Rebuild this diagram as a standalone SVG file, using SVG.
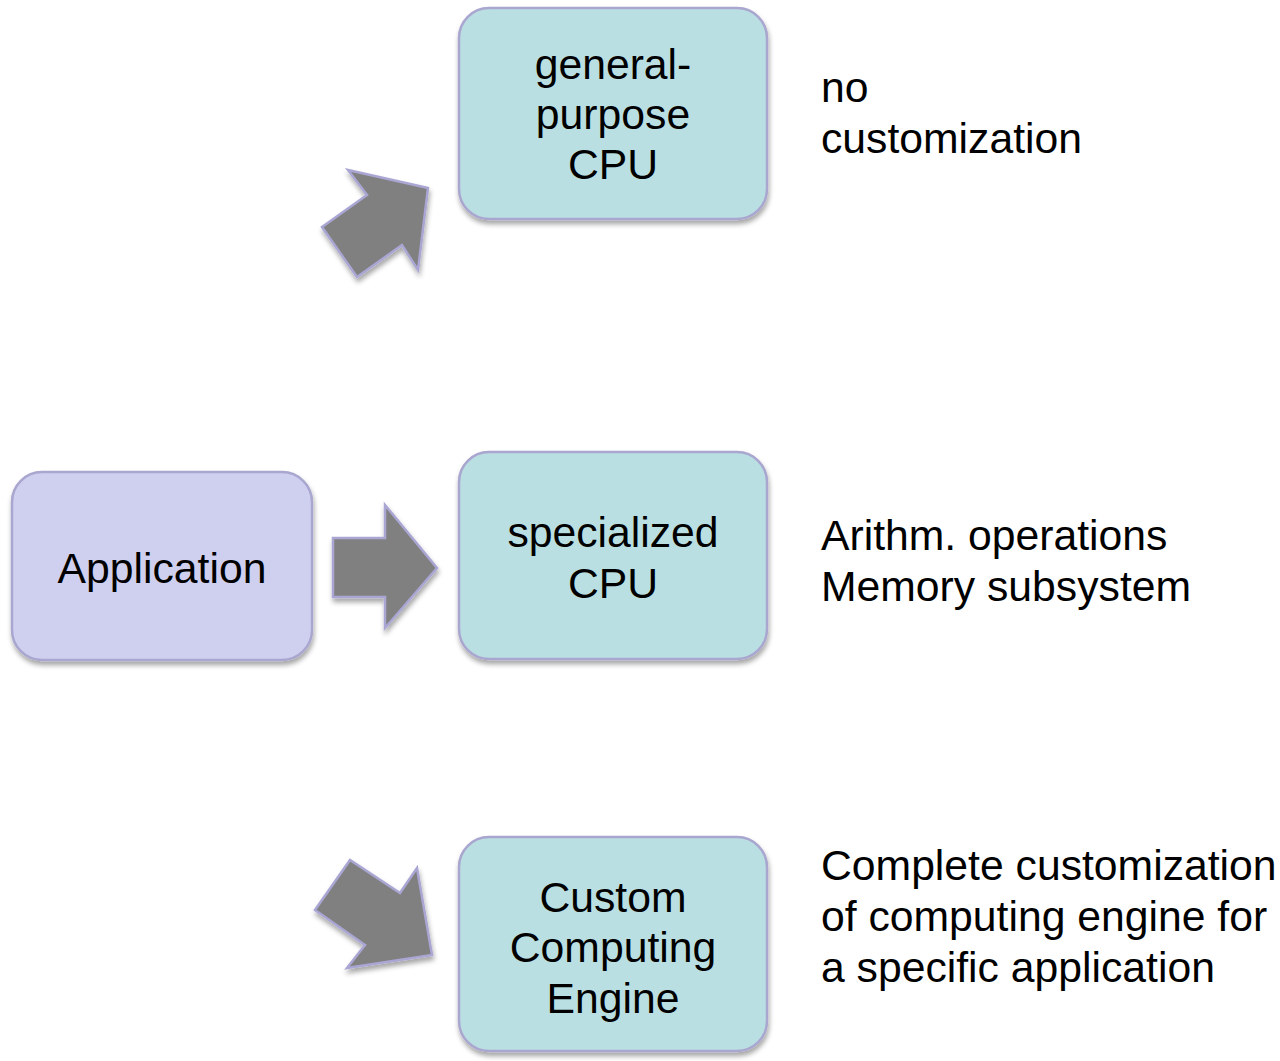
<svg xmlns="http://www.w3.org/2000/svg" width="1280" height="1061" viewBox="0 0 1280 1061">
<defs>
<filter id="sh" x="-10%" y="-10%" width="130%" height="130%">
<feDropShadow dx="1" dy="4" stdDeviation="2.5" flood-color="#000" flood-opacity="0.35"/>
</filter>
<style>
.box{fill:#badfe2;stroke:#a9a6cf;stroke-width:2.5;filter:url(#sh)}
.app{fill:#cfcfef;stroke:#a9a6cf;stroke-width:2.5;filter:url(#sh)}
.arr{fill:#808080;stroke:#aaa6d4;stroke-width:2.5;stroke-linejoin:miter;filter:url(#sh)}
text{font-family:"Liberation Sans",Arial,sans-serif;font-size:42.7px;fill:#000}
.c{text-anchor:middle}
</style>
</defs>
<rect width="1280" height="1061" fill="#fff"/>
<g id="connectors">
<polygon class="arr" points="322,227 367,195 348,170 428,188 418,270 402,245 357,277"/>
<polygon class="arr" points="333,538 385,538 385,505 437,568 385,628 385,597 333,597"/>
<polygon class="arr" points="315,910 350,860 400,893 417,868 432,955 347,968 365,945"/>
</g>
<g id="node-gp">
<rect class="box" x="459" y="8" width="308" height="211" rx="30"/>
<text class="c" x="613" y="79">general-</text>
<text class="c" x="613" y="129">purpose</text>
<text class="c" x="613" y="179">CPU</text>
</g>
<g id="node-app">
<rect class="app" x="12" y="472" width="300" height="188" rx="30"/>
<text class="c" x="162" y="583">Application</text>
</g>
<g id="node-spec">
<rect class="box" x="459" y="452" width="308" height="207" rx="30"/>
<text class="c" x="613" y="547">specialized</text>
<text class="c" x="613" y="598">CPU</text>
</g>
<g id="node-cce">
<rect class="box" x="459" y="837" width="308" height="214" rx="30"/>
<text class="c" x="613" y="912">Custom</text>
<text class="c" x="613" y="962">Computing</text>
<text class="c" x="613" y="1013">Engine</text>
</g>
<g id="labels">
<text x="821" y="102">no</text>
<text x="821" y="153">customization</text>
<text x="821" y="550">Arithm. operations</text>
<text x="821" y="601">Memory subsystem</text>
<text x="821" y="880">Complete customization</text>
<text x="821" y="931">of computing engine for</text>
<text x="821" y="982">a specific application</text>
</g>
</svg>
